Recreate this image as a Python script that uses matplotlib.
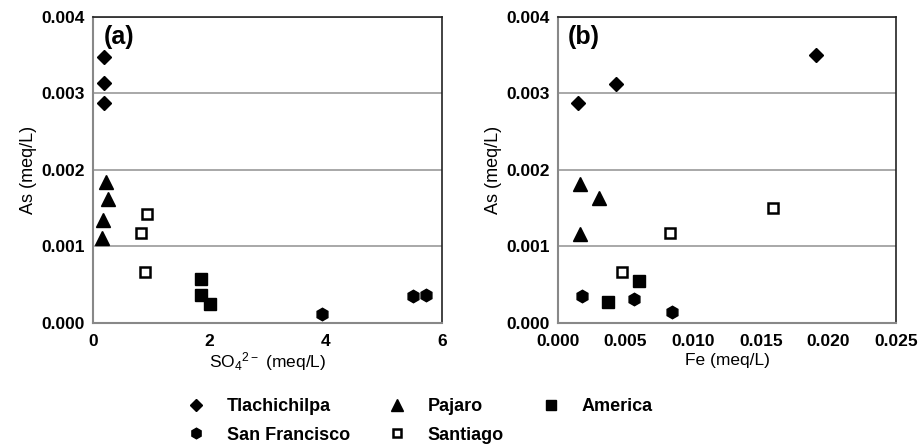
import matplotlib
matplotlib.use('Agg')
import matplotlib.pyplot as plt
from matplotlib.ticker import FormatStrFormatter

plt.rcParams['font.family'] = ['Liberation Sans', 'DejaVu Sans']
plt.rcParams['mathtext.default'] = 'regular'

names = ['Tlachichilpa', 'San Francisco', 'Pajaro', 'Santiago', 'America']

# panel (a): SO4 vs As
so4 = {
    'Tlachichilpa': [0.19, 0.19, 0.19],
    'San Francisco': [3.93, 5.50, 5.72],
    'Pajaro': [0.23, 0.25, 0.18, 0.16],
    'Santiago': [0.92, 0.82, 0.90],
    'America': [1.86, 1.86, 2.01],
}
as_a = {
    'Tlachichilpa': [0.00348, 0.00314, 0.00287],
    'San Francisco': [0.00012, 0.00035, 0.00037],
    'Pajaro': [0.00184, 0.00162, 0.00135, 0.00111],
    'Santiago': [0.00143, 0.00117, 0.00067],
    'America': [0.00057, 0.00036, 0.00025],
}

# panel (b): Fe vs As
fe = {
    'Tlachichilpa': [0.0015, 0.0043, 0.0191],
    'San Francisco': [0.0018, 0.0056, 0.0084],
    'Pajaro': [0.0016, 0.0030, 0.0016],
    'Santiago': [0.0083, 0.0159, 0.0047],
    'America': [0.0060, 0.0037],
}
as_b = {
    'Tlachichilpa': [0.00287, 0.00312, 0.00350],
    'San Francisco': [0.00035, 0.00031, 0.00014],
    'Pajaro': [0.00182, 0.00164, 0.00116],
    'Santiago': [0.00117, 0.00150, 0.00067],
    'America': [0.00055, 0.00027],
}

styles = {
    'Tlachichilpa': dict(marker='D', markersize=7, color='black'),
    'San Francisco': dict(marker='h', markersize=9, color='black'),
    'Pajaro': dict(marker='^', markersize=10, color='black'),
    'Santiago': dict(marker='s', markersize=7, markerfacecolor='white',
                     markeredgecolor='black', markeredgewidth=1.8, color='black'),
    'America': dict(marker='s', markersize=8, color='black'),
}

fig = plt.figure(figsize=(9.18, 4.46), dpi=100)
ax1 = fig.add_axes([0.1013, 0.2758, 0.3802, 0.6861])
ax2 = fig.add_axes([0.6078, 0.2758, 0.3682, 0.6861])

for ax, xs, ys, lab in [(ax1, so4, as_a, '(a)'), (ax2, fe, as_b, '(b)')]:
    for n in names:
        ax.plot(xs[n], ys[n], linestyle='none', label=n, zorder=3, **styles[n])
    ax.set_ylim(0, 0.004)
    ax.set_yticks([0, 0.001, 0.002, 0.003, 0.004])
    ax.yaxis.set_major_formatter(FormatStrFormatter('%.3f'))
    ax.grid(axis='y', color='#9a9a9a', linewidth=1.2)
    ax.set_axisbelow(True)
    ax.tick_params(axis='y', length=0, labelsize=12.5, pad=6)
    ax.tick_params(axis='x', length=0, labelsize=12.5, pad=8)
    for s in ['left', 'bottom']:
        ax.spines[s].set_color('#888888')
        ax.spines[s].set_linewidth(1.5)
    for s in ['top', 'right']:
        ax.spines[s].set_color('#222222')
        ax.spines[s].set_linewidth(1.2)
    ax.set_ylabel('As (meq/L)', fontsize=13, labelpad=3)
    ax.text(0.03, 0.975, lab, transform=ax.transAxes, fontsize=18,
            fontweight='bold', va='top', ha='left')

ax1.set_xlim(0, 6)
ax1.set_xticks([0, 2, 4, 6])
ax1.set_xlabel('SO$_4$$^{2-}$ (meq/L)', fontsize=12.5, labelpad=1)

ax2.set_xlim(0, 0.025)
ax2.set_xticks([0, 0.005, 0.010, 0.015, 0.020, 0.025])
ax2.xaxis.set_major_formatter(FormatStrFormatter('%.3f'))
ax2.set_xlabel('Fe (meq/L)', fontsize=12.5, labelpad=3)
for t in ax1.get_xticklabels() + ax1.get_yticklabels() + ax2.get_xticklabels() + ax2.get_yticklabels():
    t.set_fontweight('bold')

handles, labels = ax1.get_legend_handles_labels()
leg = fig.legend(handles, labels, ncol=3, loc='lower left',
                 bbox_to_anchor=(0.184, -0.031), frameon=False,
                 prop={'weight': 'bold', 'size': 13}, handlelength=1.2,
                 handletextpad=1.1, columnspacing=2.0, labelspacing=0.62,
                 markerscale=0.85)

fig.savefig('out.png', dpi=100)
